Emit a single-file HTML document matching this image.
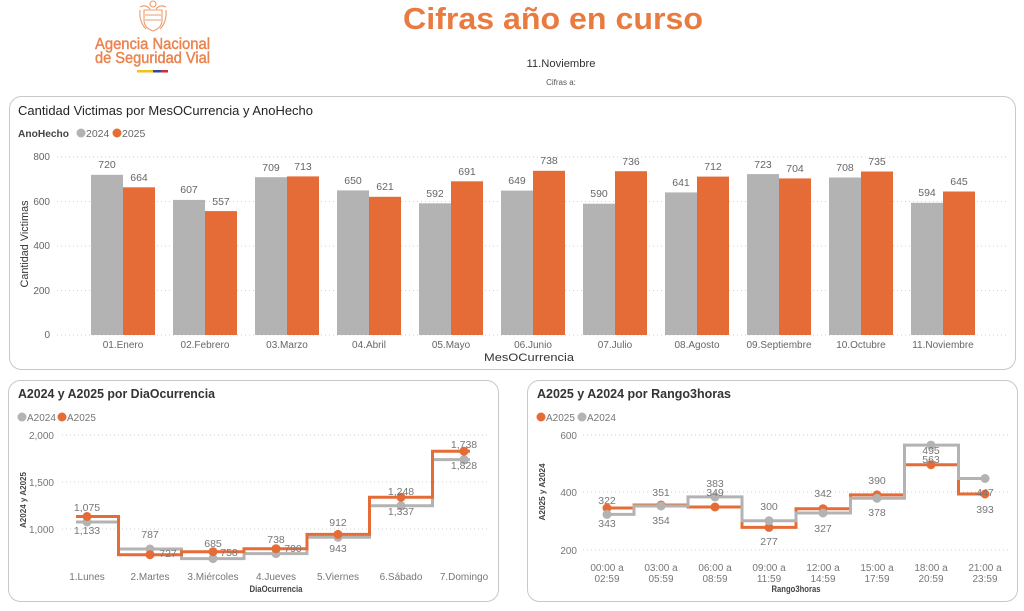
<!DOCTYPE html>
<html><head><meta charset="utf-8"><style>
html,body{margin:0;padding:0;background:#fff;}
svg{display:block;font-family:"Liberation Sans",Arial,sans-serif;}
</style></head><body>
<svg width="1024" height="611" viewBox="0 0 1024 611" xmlns="http://www.w3.org/2000/svg">
<rect width="1024" height="611" fill="#fff"/>

<!-- Logo -->
<g fill="none" stroke="#EE9C6E" stroke-width="1.1">
  <circle cx="153" cy="4" r="3"/>
  <path d="M140,7 Q146,4 150,9 M166,7 Q160,4 156,9"/>
  <path d="M144,10 H162 V20 Q162,28 153,31 Q144,28 144,20 Z"/>
  <path d="M145,15 H161 M145,20 H161"/>
  <path d="M140,10 Q139,22 146,29 M166,10 Q167,22 160,29"/>
</g>
<text x="95" y="49" font-size="15.5" fill="#EA8450" stroke="#EA8450" stroke-width="0.45" textLength="115" lengthAdjust="spacingAndGlyphs">Agencia Nacional</text>
<text x="95" y="63" font-size="15.5" fill="#EA8450" stroke="#EA8450" stroke-width="0.45" textLength="115" lengthAdjust="spacingAndGlyphs">de Seguridad Vial</text>
<rect x="137" y="70" width="16" height="2.5" fill="#F2C21B"/>
<rect x="153" y="70" width="8" height="2.5" fill="#2F4C97"/>
<rect x="161" y="70" width="7" height="2.5" fill="#D8283B"/>

<!-- Header -->
<text x="403" y="29" font-size="31" font-weight="bold" fill="#E97B41" textLength="300" lengthAdjust="spacingAndGlyphs">Cifras año en curso</text>
<text x="561" y="67" font-size="11" fill="#333" text-anchor="middle" textLength="69" lengthAdjust="spacingAndGlyphs">11.Noviembre</text>
<text x="561" y="85" font-size="8" fill="#555" text-anchor="middle">Cifras a:</text>

<!-- Bar chart panel -->
<rect x="9.5" y="96.5" width="1006" height="273" rx="12" fill="#fff" stroke="#C8C8C8"/>
<text x="18" y="115" font-size="13" fill="#252423" textLength="295" lengthAdjust="spacingAndGlyphs">Cantidad Victimas por MesOCurrencia y AnoHecho</text>
<text x="18" y="137" font-size="10" font-weight="bold" fill="#444" textLength="51" lengthAdjust="spacingAndGlyphs">AnoHecho</text>
<circle cx="81" cy="133" r="4.5" fill="#B3B3B3"/>
<text x="86" y="137" font-size="10.5" fill="#666">2024</text>
<circle cx="117" cy="133" r="4.5" fill="#E66C37"/>
<text x="122" y="137" font-size="10.5" fill="#666">2025</text>

<g stroke="#D2D2D2" stroke-dasharray="1 3" stroke-width="1">
  <line x1="57" y1="157" x2="1008" y2="157"/>
  <line x1="57" y1="201.5" x2="1008" y2="201.5"/>
  <line x1="57" y1="246" x2="1008" y2="246"/>
  <line x1="57" y1="290.5" x2="1008" y2="290.5"/>
  <line x1="57" y1="335" x2="1008" y2="335"/>
</g>
<g font-size="10" fill="#666" text-anchor="end">
  <text x="50" y="160">800</text>
  <text x="50" y="205">600</text>
  <text x="50" y="249">400</text>
  <text x="50" y="294">200</text>
  <text x="50" y="338">0</text>
</g>
<text transform="translate(28,244) rotate(-90)" font-size="11" fill="#333" text-anchor="middle" textLength="87" lengthAdjust="spacingAndGlyphs">Cantidad Victimas</text>

<g fill="#B3B3B3">
  <rect x="91" y="174.8" width="32" height="160.2"/>
  <rect x="173" y="199.9" width="32" height="135.1"/>
  <rect x="255" y="177.2" width="32" height="157.8"/>
  <rect x="337" y="190.4" width="32" height="144.6"/>
  <rect x="419" y="203.3" width="32" height="131.7"/>
  <rect x="501" y="190.6" width="32" height="144.4"/>
  <rect x="583" y="203.7" width="32" height="131.3"/>
  <rect x="665" y="192.4" width="32" height="142.6"/>
  <rect x="747" y="174.1" width="32" height="160.9"/>
  <rect x="829" y="177.5" width="32" height="157.5"/>
  <rect x="911" y="202.8" width="32" height="132.2"/>
</g>
<g fill="#E66C37">
  <rect x="123" y="187.3" width="32" height="147.7"/>
  <rect x="205" y="211.1" width="32" height="123.9"/>
  <rect x="287" y="176.4" width="32" height="158.6"/>
  <rect x="369" y="196.8" width="32" height="138.2"/>
  <rect x="451" y="181.3" width="32" height="153.7"/>
  <rect x="533" y="170.8" width="32" height="164.2"/>
  <rect x="615" y="171.2" width="32" height="163.8"/>
  <rect x="697" y="176.6" width="32" height="158.4"/>
  <rect x="779" y="178.4" width="32" height="156.6"/>
  <rect x="861" y="171.5" width="32" height="163.5"/>
  <rect x="943" y="191.5" width="32" height="143.5"/>
</g>
<g font-size="10.5" fill="#666" text-anchor="middle">
  <text x="107" y="168">720</text><text x="139" y="181">664</text>
  <text x="189" y="193">607</text><text x="221" y="205">557</text>
  <text x="271" y="171">709</text><text x="303" y="170">713</text>
  <text x="353" y="184">650</text><text x="385" y="190">621</text>
  <text x="435" y="197">592</text><text x="467" y="175">691</text>
  <text x="517" y="184">649</text><text x="549" y="164">738</text>
  <text x="599" y="197">590</text><text x="631" y="165">736</text>
  <text x="681" y="186">641</text><text x="713" y="170">712</text>
  <text x="763" y="168">723</text><text x="795" y="172">704</text>
  <text x="845" y="171">708</text><text x="877" y="165">735</text>
  <text x="927" y="196">594</text><text x="959" y="185">645</text>
</g>
<g font-size="10" fill="#666" text-anchor="middle">
  <text x="123" y="348">01.Enero</text>
  <text x="205" y="348">02.Febrero</text>
  <text x="287" y="348">03.Marzo</text>
  <text x="369" y="348">04.Abril</text>
  <text x="451" y="348">05.Mayo</text>
  <text x="533" y="348">06.Junio</text>
  <text x="615" y="348">07.Julio</text>
  <text x="697" y="348">08.Agosto</text>
  <text x="779" y="348">09.Septiembre</text>
  <text x="861" y="348">10.Octubre</text>
  <text x="943" y="348">11.Noviembre</text>
</g>
<text x="529" y="361" font-size="11" fill="#333" text-anchor="middle" textLength="90" lengthAdjust="spacingAndGlyphs">MesOCurrencia</text>

<!-- Left bottom panel -->
<rect x="8.5" y="380.5" width="490" height="221" rx="12" fill="#fff" stroke="#C8C8C8"/>
<text x="18" y="398" font-size="13" font-weight="bold" fill="#333" textLength="197" lengthAdjust="spacingAndGlyphs">A2024 y A2025 por DiaOcurrencia</text>
<circle cx="22" cy="417" r="4.5" fill="#B3B3B3"/>
<text x="27" y="421" font-size="10" fill="#777">A2024</text>
<circle cx="62" cy="417" r="4.5" fill="#E66C37"/>
<text x="67" y="421" font-size="10" fill="#777">A2025</text>
<g stroke="#D2D2D2" stroke-dasharray="1 3">
  <line x1="62" y1="435" x2="490" y2="435"/>
  <line x1="62" y1="482" x2="490" y2="482"/>
  <line x1="62" y1="529" x2="490" y2="529"/>
</g>
<g font-size="10" fill="#777" text-anchor="end">
  <text x="54" y="439">2,000</text>
  <text x="54" y="486">1,500</text>
  <text x="54" y="533">1,000</text>
</g>
<text transform="translate(26,500) rotate(-90)" font-size="8.5" font-weight="bold" fill="#444" text-anchor="middle" textLength="56" lengthAdjust="spacingAndGlyphs">A2024 y A2025</text>
<path d="M76,522 H118.5 V549 H181.5 V558.6 H244 V553.6 H307 V537.3 H369.5 V505.7 H432.5 V459.6 H470" fill="none" stroke="#B3B3B3" stroke-width="3"/>
<g fill="#B3B3B3">
  <circle cx="87" cy="522" r="4.5"/><circle cx="150" cy="549" r="4.5"/><circle cx="213" cy="558.6" r="4.5"/>
  <circle cx="276" cy="553.6" r="4.5"/><circle cx="338" cy="537.3" r="4.5"/><circle cx="401" cy="505.7" r="4.5"/>
  <circle cx="464" cy="459.6" r="4.5"/>
</g>
<path d="M76,516.5 H118.5 V554.7 H181.5 V551.7 H244 V548.7 H307 V534.4 H369.5 V497.3 H432.5 V451.2 H470" fill="none" stroke="#E66C37" stroke-width="3"/>
<g fill="#E66C37">
  <circle cx="87" cy="516.5" r="4.5"/><circle cx="150" cy="554.7" r="4.5"/><circle cx="213" cy="551.7" r="4.5"/>
  <circle cx="276" cy="548.7" r="4.5"/><circle cx="338" cy="534.4" r="4.5"/><circle cx="401" cy="497.3" r="4.5"/>
  <circle cx="464" cy="451.2" r="4.5"/>
</g>
<g font-size="10.5" fill="#777" text-anchor="middle">
  <text x="87" y="511">1,075</text><text x="87" y="534">1,133</text>
  <text x="150" y="538">787</text><text x="168" y="557">727</text>
  <text x="213" y="547">685</text><text x="229" y="556">758</text>
  <text x="276" y="543">738</text><text x="293" y="552">790</text>
  <text x="338" y="526">912</text><text x="338" y="552">943</text>
  <text x="401" y="495">1,248</text><text x="401" y="515">1,337</text>
  <text x="464" y="448">1,738</text><text x="464" y="469">1,828</text>
</g>
<g font-size="10" fill="#777" text-anchor="middle">
  <text x="87" y="580">1.Lunes</text>
  <text x="150" y="580">2.Martes</text>
  <text x="213" y="580">3.Miércoles</text>
  <text x="276" y="580">4.Jueves</text>
  <text x="338" y="580">5.Viernes</text>
  <text x="401" y="580">6.Sábado</text>
  <text x="464" y="580">7.Domingo</text>
</g>
<text x="276" y="592" font-size="9" font-weight="bold" fill="#444" text-anchor="middle" textLength="53" lengthAdjust="spacingAndGlyphs">DiaOcurrencia</text>

<!-- Right bottom panel -->
<rect x="527.5" y="380.5" width="490" height="221" rx="12" fill="#fff" stroke="#C8C8C8"/>
<text x="537" y="398" font-size="13" font-weight="bold" fill="#333" textLength="194" lengthAdjust="spacingAndGlyphs">A2025 y A2024 por Rango3horas</text>
<circle cx="541" cy="417" r="4.5" fill="#E66C37"/>
<text x="546" y="421" font-size="10" fill="#777">A2025</text>
<circle cx="582" cy="417" r="4.5" fill="#B3B3B3"/>
<text x="587" y="421" font-size="10" fill="#777">A2024</text>
<g stroke="#D2D2D2" stroke-dasharray="1 3">
  <line x1="583" y1="435" x2="1008" y2="435"/>
  <line x1="583" y1="492" x2="1008" y2="492"/>
  <line x1="583" y1="550" x2="1008" y2="550"/>
</g>
<g font-size="10" fill="#777" text-anchor="end">
  <text x="577" y="439">600</text>
  <text x="577" y="496">400</text>
  <text x="577" y="554">200</text>
</g>
<text transform="translate(545,492) rotate(-90)" font-size="8.5" font-weight="bold" fill="#444" text-anchor="middle" textLength="57" lengthAdjust="spacingAndGlyphs">A2025 y A2024</text>
<path d="M603,508 H634 V505 H688 V507 H742 V527.4 H796 V508.7 H850.5 V494.9 H904.5 V464.7 H958.5 V494 H986" fill="none" stroke="#E66C37" stroke-width="3"/>
<g fill="#E66C37">
  <circle cx="607" cy="508" r="4.5"/><circle cx="661" cy="505" r="4.5"/><circle cx="715" cy="507" r="4.5"/>
  <circle cx="769" cy="527.4" r="4.5"/><circle cx="823" cy="508.7" r="4.5"/><circle cx="877" cy="494.9" r="4.5"/>
  <circle cx="931" cy="464.7" r="4.5"/><circle cx="985" cy="494" r="4.5"/>
</g>
<path d="M603,514.4 H634 V506 H688 V496.9 H742 V520.75 H796 V513 H850.5 V498.3 H904.5 V445.1 H958.5 V478.5 H986" fill="none" stroke="#B3B3B3" stroke-width="3"/>
<g fill="#B3B3B3">
  <circle cx="607" cy="514.4" r="4.5"/><circle cx="661" cy="506" r="4.5"/><circle cx="715" cy="496.9" r="4.5"/>
  <circle cx="769" cy="520.75" r="4.5"/><circle cx="823" cy="513" r="4.5"/><circle cx="877" cy="498.3" r="4.5"/>
  <circle cx="931" cy="445.1" r="4.5"/><circle cx="985" cy="478.5" r="4.5"/>
</g>
<g font-size="10.5" fill="#777" text-anchor="middle">
  <text x="607" y="504">322</text><text x="607" y="527">343</text>
  <text x="661" y="496">351</text><text x="661" y="524">354</text>
  <text x="715" y="487">383</text><text x="715" y="496">349</text>
  <text x="769" y="510">300</text><text x="769" y="545">277</text>
  <text x="823" y="497">342</text><text x="823" y="532">327</text>
  <text x="877" y="484">390</text><text x="877" y="516">378</text>
  <text x="931" y="454">495</text><text x="931" y="463">563</text>
  <text x="985" y="496">447</text><text x="985" y="513">393</text>
</g>
<g font-size="10" fill="#777" text-anchor="middle">
  <text x="607" y="571">00:00 a</text><text x="607" y="582">02:59</text>
  <text x="661" y="571">03:00 a</text><text x="661" y="582">05:59</text>
  <text x="715" y="571">06:00 a</text><text x="715" y="582">08:59</text>
  <text x="769" y="571">09:00 a</text><text x="769" y="582">11:59</text>
  <text x="823" y="571">12:00 a</text><text x="823" y="582">14:59</text>
  <text x="877" y="571">15:00 a</text><text x="877" y="582">17:59</text>
  <text x="931" y="571">18:00 a</text><text x="931" y="582">20:59</text>
  <text x="985" y="571">21:00 a</text><text x="985" y="582">23:59</text>
</g>
<text x="796" y="592" font-size="9" font-weight="bold" fill="#444" text-anchor="middle" textLength="49" lengthAdjust="spacingAndGlyphs">Rango3horas</text>
</svg>
</body></html>
